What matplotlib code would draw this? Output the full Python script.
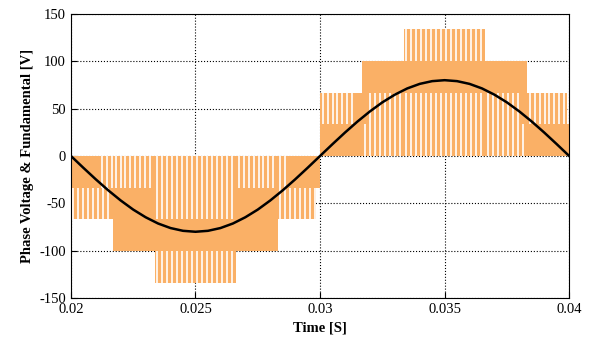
import numpy as np
import matplotlib
matplotlib.use("Agg")
import matplotlib.pyplot as plt

plt.rcParams['font.family'] = ['Liberation Serif', 'DejaVu Serif']
plt.rcParams['axes.unicode_minus'] = False

# fundamental, read every 0.5 ms
fundTimes = np.linspace(0.02, 0.04, 41)
fundValues = [0, -12.5, -24.7, -36.3, -47.0, -56.6, -64.7, -71.3, -76.1, -79.0, -80.0,
              -79.0, -76.1, -71.3, -64.7, -56.6, -47.0, -36.3, -24.7, -12.5, 0,
              12.5, 24.7, 36.3, 47.0, 56.6, 64.7, 71.3, 76.1, 79.0, 80.0,
              79.0, 76.1, 71.3, 64.7, 56.6, 47.0, 36.3, 24.7, 12.5, 0]

# phase voltage bands: start, end, low level, high level, switching (1) or solid (0)
bandStart = [0.0200, 0.02116, 0.0200, 0.02169, 0.02169, 0.02337, 0.02337, 0.02337,
             0.02663, 0.02663, 0.02831, 0.02870, 0.02831,
             0.0300, 0.0300, 0.03133, 0.03169, 0.03169, 0.03169, 0.03190,
             0.03337, 0.03337, 0.03337, 0.03663, 0.03663, 0.03663, 0.03810,
             0.03831, 0.03831]
bandEnd = [0.02116, 0.02169, 0.02169, 0.02337, 0.02337, 0.02663, 0.02663, 0.02663,
           0.02831, 0.02831, 0.02870, 0.0300, 0.02984,
           0.03169, 0.03133, 0.03169, 0.03337, 0.03337, 0.03190, 0.03337,
           0.03663, 0.03663, 0.03663, 0.03831, 0.03831, 0.03810, 0.03831,
           0.0400, 0.03990]
bandLow = [-33.5, -33.5, -67, -33.5, -100.5, -67, -100.5, -134,
           -33.5, -100.5, -33.5, -33.5, -67,
           0, 33.5, 33.5, 0, 67, 33.5, 33.5,
           100.5, 67, 0, 0, 67, 33.5, 33.5,
           0, 33.5]
bandHigh = [0, 0, -33.5, 0, -33.5, 0, -67, -100.5,
            0, -33.5, 0, 0, -33.5,
            33.5, 67, 67, 33.5, 100.5, 67, 67,
            134, 100.5, 67, 33.5, 100.5, 67, 67,
            33.5, 67]
bandSwitching = [0, 1, 1, 1, 0, 1, 0, 1,
                 1, 0, 1, 0, 1,
                 0, 1, 0, 1, 0, 0, 1,
                 1, 0, 1, 1, 0, 1, 0,
                 0, 1]

carrierPeriod = 0.0002
orange = '#FAB066'

fig = plt.figure(figsize=(5.96, 3.47), dpi=100)
ax = fig.add_axes([0.119, 0.141, 0.836, 0.819])

for i in range(len(bandStart)):
    ax.bar(bandStart[i], bandHigh[i] - bandLow[i], width=bandEnd[i] - bandStart[i],
           bottom=bandLow[i], align='edge', color=orange, linewidth=0, zorder=2)

for i in range(len(bandStart)):
    if bandSwitching[i]:
        gaps = np.arange(bandStart[i] + carrierPeriod / 2, bandEnd[i], carrierPeriod)
        ax.vlines(gaps, bandLow[i], bandHigh[i], colors='white', linewidth=1.2, zorder=3)

ax.plot(fundTimes, fundValues, color='black', linewidth=1.8, zorder=4)

ax.set_xlim(0.02, 0.04)
ax.set_ylim(-150, 150)
ax.set_xticks([0.02, 0.025, 0.03, 0.035, 0.04])
ax.set_xticklabels(['0.02', '0.025', '0.03', '0.035', '0.04'])
ax.set_yticks([-150, -100, -50, 0, 50, 100, 150])
ax.tick_params(direction='in', labelsize=10.5, length=4)
ax.grid(True, linestyle=':', color='black', linewidth=0.8, zorder=0)
ax.set_axisbelow(True)
ax.set_xlabel('Time [S]', fontsize=10.5, fontweight='bold')
ax.set_ylabel('Phase Voltage & Fundamental [V]', fontsize=10.5, fontweight='bold')

fig.savefig('out.png', dpi=100)
